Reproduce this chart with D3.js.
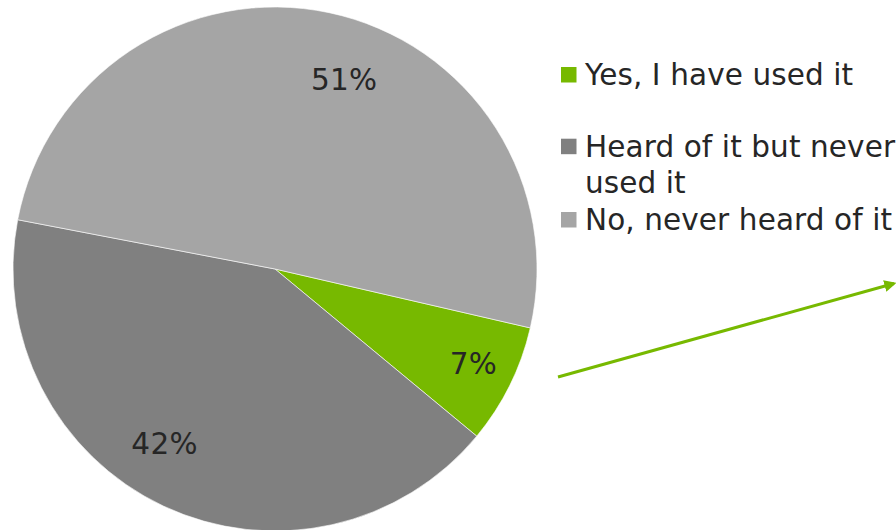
<!DOCTYPE html>
<html>
<head>
<meta charset="utf-8">
<script src="https://cdn.jsdelivr.net/npm/d3@7"></script>
<style>
  html, body { margin: 0; padding: 0; background: #ffffff; overflow: hidden; }
  svg { display: block; }
  text { font-family: "DejaVu Sans", Verdana, sans-serif; fill: #262626; }
</style>
</head>
<body>
<svg id="chart" width="896" height="530"></svg>
<script>
// ---- data ----
const categories = ["Yes, I have used it", "Heard of it but never used it", "No, never heard of it"];
const legendLines = [["Yes, I have used it"], ["Heard of it but never", "used it"], ["No, never heard of it"]];
const values = [7.4, 42.0, 50.6];
const colors = ["#77B900", "#808080", "#A5A5A5"];

// ---- layout ----
const W = 896, H = 530;
const cx = 275, cy = 269, R = 262;
const startDeg = 103;
const fontSize = 29.5;
// label placement (Excel "best fit" style): angle shift in degrees, radius
const labelLayout = [
  { shift: -0.7, r: 220 },
  { shift: 7, r: 207 },
  { shift: 8.2, r: 201 }
];

const svg = d3.select("#chart");
const data = categories.map((c, i) => ({ cat: c, value: values[i], color: colors[i], i }));

const pie = d3.pie().sort(null).value(d => d.value)
  .startAngle(startDeg * Math.PI / 180)
  .endAngle(startDeg * Math.PI / 180 + 2 * Math.PI);
const arcs = pie(data);
const arc = d3.arc().innerRadius(0).outerRadius(R);

const g = svg.append("g").attr("transform", `translate(${cx},${cy})`);
g.selectAll("path.slice").data(arcs).enter().append("path")
  .attr("class", "slice")
  .attr("d", arc)
  .attr("fill", d => d.data.color)
  .attr("stroke", "#ffffff")
  .attr("stroke-width", 0.6);

const total = d3.sum(values);
g.selectAll("text.lbl").data(arcs).enter().append("text")
  .attr("class", "lbl")
  .attr("text-anchor", "middle")
  .attr("dominant-baseline", "central")
  .style("font-size", fontSize + "px")
  .style("letter-spacing", "0.3px")
  .attr("transform", d => {
    const L = labelLayout[d.data.i];
    const a = (d.startAngle + d.endAngle) / 2 + L.shift * Math.PI / 180;
    return `translate(${L.r * Math.sin(a)},${-L.r * Math.cos(a)})`;
  })
  .text(d => Math.round(d.data.value / total * 100) + "%");

// ---- legend ----
const legX = 561, legTextX = 585, lineH = 36.7;
const legBaselines = [85, 156.7, 230];
const leg = svg.append("g");
legendLines.forEach((lines, i) => {
  const base = legBaselines[i];
  leg.append("rect")
    .attr("x", legX).attr("y", base - 18)
    .attr("width", 15.5).attr("height", 15.5)
    .attr("fill", colors[i]);
  const t = leg.append("text")
    .attr("x", legTextX).attr("y", base)
    .style("font-size", fontSize + "px")
    .style("letter-spacing", "0.1px");
  lines.forEach((ln, j) => {
    t.append("tspan").attr("x", legTextX).attr("y", base + j * lineH).text(ln);
  });
});

// ---- arrow ----
const defs = svg.append("defs");
defs.append("marker")
  .attr("id", "arrowhead")
  .attr("viewBox", "0 0 10 10")
  .attr("refX", 8).attr("refY", 5)
  .attr("markerWidth", 4).attr("markerHeight", 4)
  .attr("orient", "auto")
  .append("path").attr("d", "M0,0 L10,5 L0,10 Z").attr("fill", "#77B900");

svg.append("line")
  .attr("x1", 558).attr("y1", 377)
  .attr("x2", 894).attr("y2", 283.5)
  .attr("stroke", "#77B900")
  .attr("stroke-width", 3)
  .attr("marker-end", "url(#arrowhead)");
</script>
</body>
</html>
